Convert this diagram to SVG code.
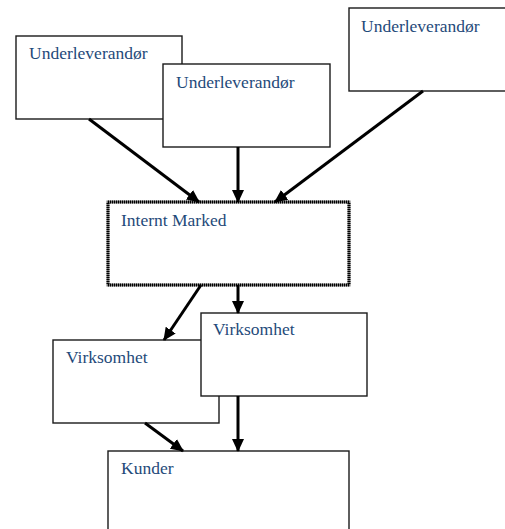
<svg xmlns="http://www.w3.org/2000/svg" width="505" height="529" viewBox="0 0 505 529">
  <style>
    .box { fill: #ffffff; stroke: #1a1a1a; stroke-width: 1.4; }
    .label { font-family: "Liberation Serif", "Times New Roman", serif; font-size: 17.5px; fill: #1f4a7a; }
    .arrow { stroke: #000000; stroke-width: 3; fill: none; marker-end: url(#head); }
  </style>
  <defs>
    <marker id="head" markerUnits="userSpaceOnUse" markerWidth="14" markerHeight="12" refX="12" refY="6" orient="auto">
      <path d="M0,0 L13,6 L0,12 z" fill="#000000"/>
    </marker>
  </defs>

  <rect width="505" height="529" fill="#ffffff"/>

  <!-- Suppliers -->
  <g id="leverandor1">
    <rect class="box" x="16" y="36" width="166" height="83"/>
    <text class="label" x="29" y="59">Underleverandør</text>
  </g>
  <g id="leverandor2">
    <rect class="box" x="163" y="64" width="167" height="83"/>
    <text class="label" x="176" y="88">Underleverandør</text>
  </g>
  <g id="leverandor3">
    <rect class="box" x="349" y="8" width="158" height="83"/>
    <text class="label" x="361" y="32">Underleverandør</text>
  </g>

  <!-- Internal market (dotted frame) -->
  <g id="internt-marked">
    <rect x="108" y="202" width="241" height="83" fill="#ffffff" stroke="#777777" stroke-width="3"/>
    <rect x="108" y="202" width="241" height="83" fill="none" stroke="#000000" stroke-width="3" stroke-dasharray="1 1"/>
    <text class="label" x="121" y="226">Internt Marked</text>
  </g>

  <!-- Businesses -->
  <g id="virksomhet1">
    <rect class="box" x="53" y="340" width="166" height="83"/>
    <text class="label" x="66" y="363">Virksomhet</text>
  </g>
  <g id="virksomhet2">
    <rect class="box" x="201" y="313" width="166" height="83"/>
    <text class="label" x="213" y="335">Virksomhet</text>
  </g>

  <!-- Customers -->
  <g id="kunder">
    <rect class="box" x="108" y="451" width="241" height="90"/>
    <text class="label" x="121" y="474">Kunder</text>
  </g>

  <!-- Connectors -->
  <g id="connectors">
    <line class="arrow" x1="89" y1="119" x2="199" y2="202"/>
    <line class="arrow" x1="238" y1="147" x2="238" y2="202"/>
    <line class="arrow" x1="423" y1="91" x2="275" y2="202"/>
    <line class="arrow" x1="201" y1="285" x2="164" y2="340"/>
    <line class="arrow" x1="238" y1="285" x2="238" y2="313"/>
    <line class="arrow" x1="145" y1="423" x2="183" y2="451"/>
    <line class="arrow" x1="238" y1="396" x2="238" y2="451"/>
  </g>
</svg>
